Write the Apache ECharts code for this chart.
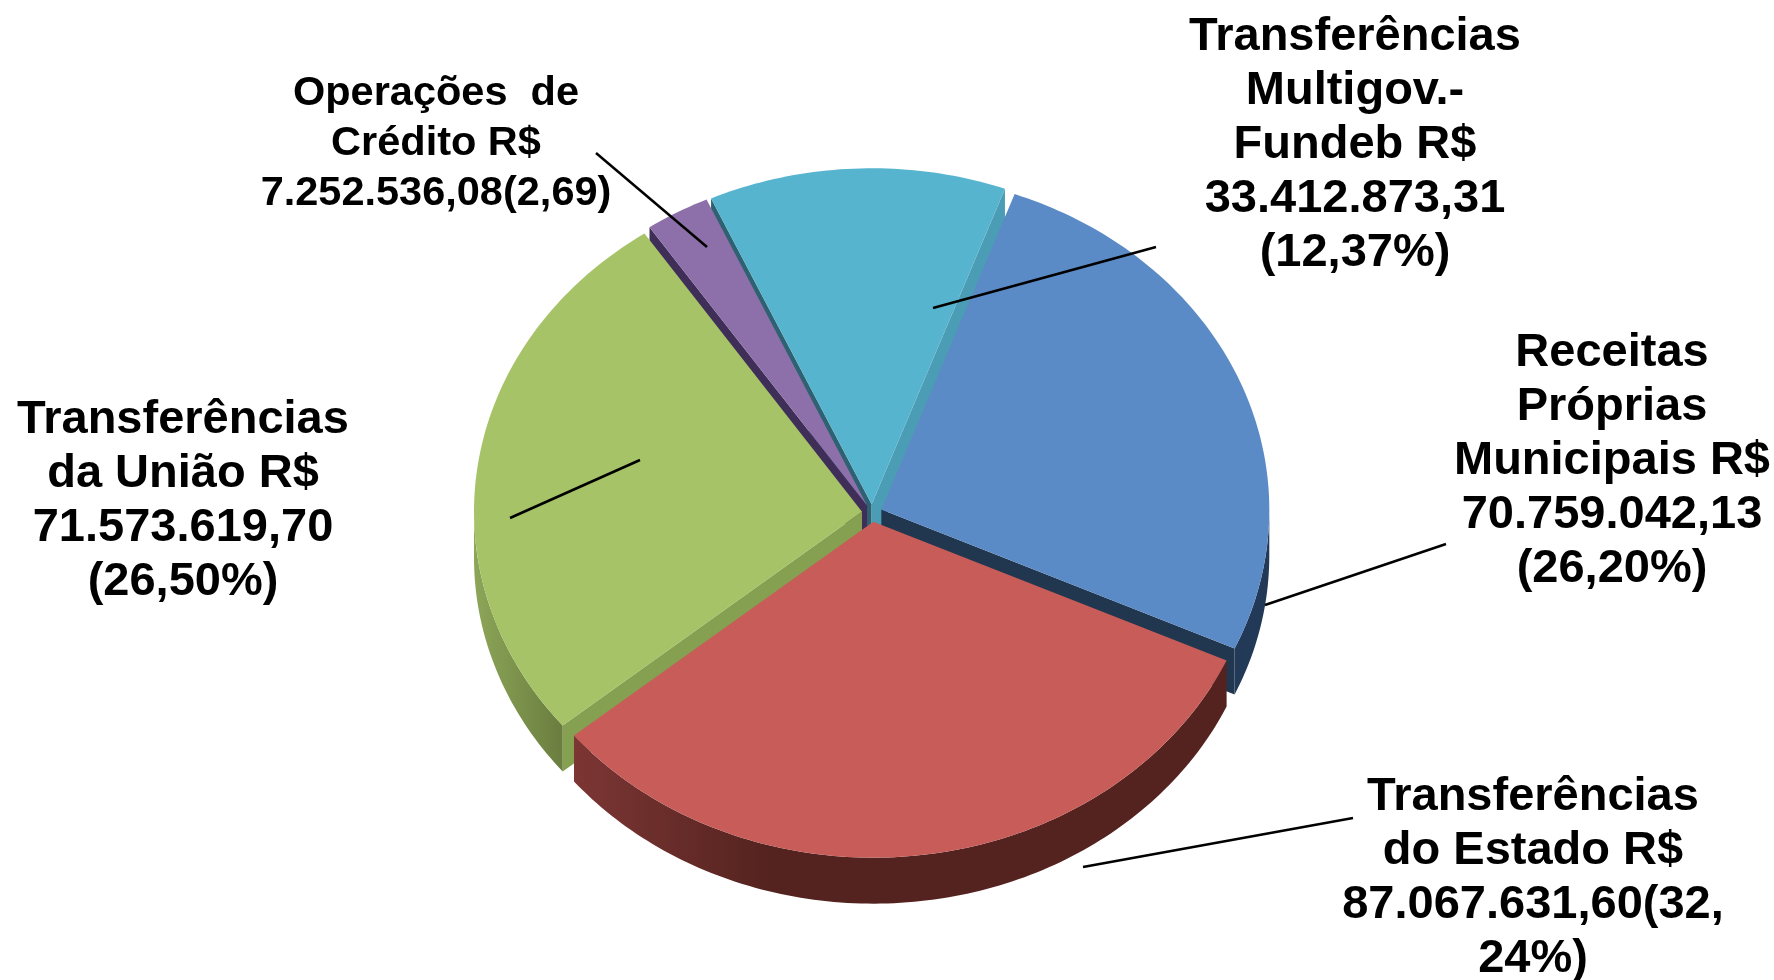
<!DOCTYPE html>
<html lang="pt">

<head>
    <meta charset="UTF-8">
    <title>Receitas</title>
    <style>
        html, body { margin: 0; padding: 0; background: #fff; }
    </style>
</head>

<body>
    <div id="main" style="width:1774px;height:980px;"></div>
    <script src="https://cdn.jsdelivr.net/npm/echarts@6/dist/echarts.min.js"></script>
    <script>
        // valores em R$, sentido horario a partir da fatia azul
        var categories = ['Receitas Próprias Municipais', 'Transferências do Estado', 'Transferências da União', 'Operações de Crédito', 'Transferências Multigov.-Fundeb'];
        var values = [70759042.13, 87067631.60, 71573619.70, 7252536.08, 33412873.31];

        var labelTexts = [
            'Receitas\nPróprias\nMunicipais R$\n70.759.042,13\n(26,20%)',
            'Transferências\ndo Estado R$\n87.067.631,60(32,\n24%)',
            'Transferências\nda União R$\n71.573.619,70\n(26,50%)',
            'Operações  de\nCrédito R$\n7.252.536,08(2,69)',
            'Transferências\nMultigov.-\nFundeb R$\n33.412.873,31\n(12,37%)'
        ];

        // posicao dos rotulos e linhas de chamada (layout, nao dados)
        var labelPos = [[1612, 461], [1533, 878], [183, 501], [436, 144], [1355, 145]];
        var labelSize = [47, 47, 47, 41.5, 47];
        var labelHeight = [54, 54, 54, 50, 54];
        var leaders = [
            [1446, 544, 1265, 605],
            [1353, 818, 1083, 867],
            [640, 460, 510, 518],
            [596, 153, 707, 247],
            [1156, 247, 933, 308]
        ];

        var topColors = ['#5B8BC6', '#C85C59', '#A6C367', '#8D70AA', '#57B4CF'];
        var startCut = ['#21374F', '#55231F', '#85A050', '#3F2F58', '#2E6273'];
        var endCut = ['#21374F', '#55231F', '#85A050', '#3F2F58', '#4A9DB5'];
        var outerWall = [
            [[0, '#223A57'], [1, '#223A57']],
            [[0, '#7C3634'], [0.3, '#54231F'], [1, '#54231F']],
            [[0, '#8CA658'], [1, '#6B7D3F']],
            [[0, '#3F2F58'], [1, '#3F2F58']],
            [[0, '#2E6273'], [1, '#2E6273']]
        ];

        var firstAngle = 20.1;
        var explode = 0.026;
        var depth = 46;
        var cx = 872, cy = 513, rx = 388, ry = 336;
        var drawOrder = [4, 3, 2, 0, 1];

        var total = values.reduce(function (a, b) { return a + b; }, 0);
        var angles = [];
        var acc = firstAngle;
        for (var i = 0; i < values.length; i++) {
            var sweep = values[i] / total * 360;
            angles.push([acc, acc + sweep]);
            acc += sweep;
        }

        function rad(a) { return a * Math.PI / 180; }

        var myChart = echarts.init(document.getElementById('main'));

        function renderSlice(params, api) {
            var idx = api.value(0);
            var a0 = angles[idx][0], a1 = angles[idx][1];
            var mid = rad((a0 + a1) / 2);
            var ox = Math.sin(mid) * explode, oy = Math.cos(mid) * explode;

            function pt(angle, r, down) {
                var p = api.coord([ox + Math.sin(rad(angle)) * r, oy + Math.cos(rad(angle)) * r]);
                return [p[0], p[1] + (down ? depth : 0)];
            }
            function arc(from, to, down) {
                var out = [];
                var n = Math.max(2, Math.ceil(Math.abs(to - from)));
                for (var k = 0; k <= n; k++) out.push(pt(from + (to - from) * k / n, 1, down));
                return out;
            }
            function cutWall(angle, color) {
                return {
                    type: 'polygon',
                    shape: { points: [pt(angle, 0, false), pt(angle, 1, false), pt(angle, 1, true), pt(angle, 0, true)] },
                    style: { fill: color }
                };
            }

            var children = [];
            if (Math.sin(rad(a0)) < 0) children.push(cutWall(a0, startCut[idx]));
            if (Math.sin(rad(a1)) > 0) children.push(cutWall(a1, endCut[idx]));

            // parede externa so na metade da frente (90 a 270 graus)
            var w0 = Math.max(a0, 90), w1 = Math.min(a1, 270);
            if (w1 > w0) {
                children.push({
                    type: 'polygon',
                    shape: { points: arc(w0, w1, false).concat(arc(w1, w0, true)) },
                    style: { fill: new echarts.graphic.LinearGradient(0, 0, 1, 0, outerWall[idx].map(function (s) { return { offset: s[0], color: s[1] }; })) }
                });
            }

            children.push({
                type: 'polygon',
                shape: { points: [pt(a0, 0, false)].concat(arc(a0, a1, false)) },
                style: { fill: topColors[idx] }
            });
            return { type: 'group', children: children };
        }

        var graphics = [];
        leaders.forEach(function (l) {
            graphics.push({
                type: 'line',
                z: 10,
                shape: { x1: l[0], y1: l[1], x2: l[2], y2: l[3] },
                style: { stroke: '#000', lineWidth: 2.5 }
            });
        });
        labelTexts.forEach(function (t, i) {
            graphics.push({
                type: 'text',
                z: 10,
                x: labelPos[i][0],
                y: labelPos[i][1],
                style: {
                    text: t,
                    align: 'center',
                    verticalAlign: 'middle',
                    fill: '#000',
                    fontFamily: '"Liberation Sans", Arial, sans-serif',
                    fontWeight: 'bold',
                    fontSize: labelSize[i],
                    lineHeight: labelHeight[i]
                }
            });
        });

        var option = {
            animation: false,
            backgroundColor: '#fff',
            grid: { left: cx - rx, top: cy - ry, width: rx * 2, height: ry * 2 },
            xAxis: { type: 'value', min: -1, max: 1, show: false },
            yAxis: { type: 'value', min: -1, max: 1, show: false },
            graphic: graphics,
            series: [{
                type: 'custom',
                name: 'Receitas',
                coordinateSystem: 'cartesian2d',
                clip: false,
                encode: { x: 0, y: 1 },
                data: drawOrder.map(function (i) { return { name: categories[i], value: [i, values[i]] }; }),
                renderItem: renderSlice
            }]
        };
        myChart.setOption(option);
    </script>
</body>

</html>
